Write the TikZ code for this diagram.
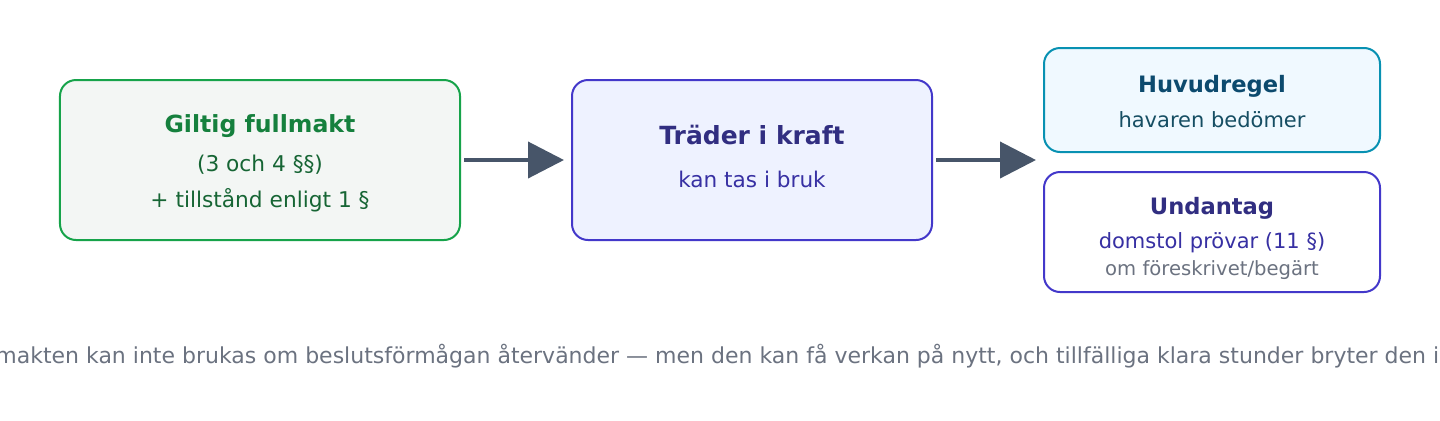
\documentclass[tikz,border=0pt]{standalone}
\usepackage{fontspec}
\setmainfont{DejaVu Sans}
\usetikzlibrary{arrows.meta}
\definecolor{gstroke}{HTML}{16A34A}
\definecolor{gfill}{HTML}{F3F6F4}
\definecolor{gtitle}{HTML}{15803D}
\definecolor{gsub}{HTML}{166534}
\definecolor{istroke}{HTML}{4338CA}
\definecolor{ifill}{HTML}{EEF2FF}
\definecolor{ititle}{HTML}{312E81}
\definecolor{isub}{HTML}{3730A3}
\definecolor{tstroke}{HTML}{0891B2}
\definecolor{tfill}{HTML}{F0F9FF}
\definecolor{ttitle}{HTML}{0C4A6E}
\definecolor{tsub}{HTML}{164E63}
\definecolor{arrowc}{HTML}{475569}
\definecolor{graytext}{HTML}{6B7280}
\newcommand{\fsz}[1]{\fontsize{#1bp}{#1bp}\selectfont}
\tikzset{
  box/.style={draw, line width=2bp, rounded corners=16bp, inner sep=0pt, outer sep=0pt},
  txt/.style={inner sep=0pt, outer sep=0pt, anchor=base},
  flow/.style={draw=arrowc, line width=4bp, -{Triangle[length=36bp,width=36bp]}},
}
\begin{document}
\begin{tikzpicture}[x=1bp,y=-1bp]
\useasboundingbox (0,0) rectangle (1440,420);
% boxes
\node[box, draw=gstroke, fill=gfill, minimum width=400bp, minimum height=160bp] (L) at (260,160) {};
\node[box, draw=istroke, fill=ifill, minimum width=360bp, minimum height=160bp] (M) at (752,160) {};
\node[box, draw=tstroke, fill=tfill, minimum width=336bp, minimum height=104bp] (H) at (1212,100) {};
\node[box, draw=istroke, fill=white, minimum width=336bp, minimum height=120bp] (U) at (1212,232) {};
% texts
\node[txt, text=gtitle, font=\fsz{23.6}\bfseries] (Lt) at (260,132) {Giltig fullmakt};
\node[txt, text=gsub, font=\fsz{21.7}] (Ls1) at (260,171) {(3 och 4 §§)};
\node[txt, text=gsub, font=\fsz{21.7}] (Ls2) at (260,207.5) {+ tillstånd enligt 1 §};
\node[txt, text=ititle, font=\fsz{25}\bfseries] (Mt) at (752,144) {Träder i kraft};
\node[txt, text=isub, font=\fsz{21.6}] (Ms) at (752,187.5) {kan tas i bruk};
\node[txt, text=ttitle, font=\fsz{22.6}\bfseries] (Ht) at (1212,92.5) {Huvudregel};
\node[txt, text=tsub, font=\fsz{21}] (Hs) at (1212,127.3) {havaren bedömer};
\node[txt, text=ititle, font=\fsz{22.6}\bfseries] (Ut) at (1212,214.3) {Undantag};
\node[txt, text=isub, font=\fsz{21}] (Us1) at (1212,248.3) {domstol prövar (11 §)};
\node[txt, text=graytext, font=\fsz{19.6}] (Us2) at (1212,275) {om föreskrivet/begärt};
% arrows
\coordinate (split) at (1036,160);
\draw[flow] ([xshift=4bp]L.east) -- ([xshift=-8bp]M.west);
\draw[flow] ([xshift=4bp]M.east) -- (split);
% footer
\begin{scope}
\clip (0,0) rectangle (1440,420);
\node[txt, text=graytext, font=\fsz{22}] (foot) at (720,363) {Fullmakten kan inte brukas om beslutsförmågan återvänder — men den kan få verkan på nytt, och tillfälliga klara stunder bryter den inte.};
\end{scope}
\end{tikzpicture}
\end{document}
